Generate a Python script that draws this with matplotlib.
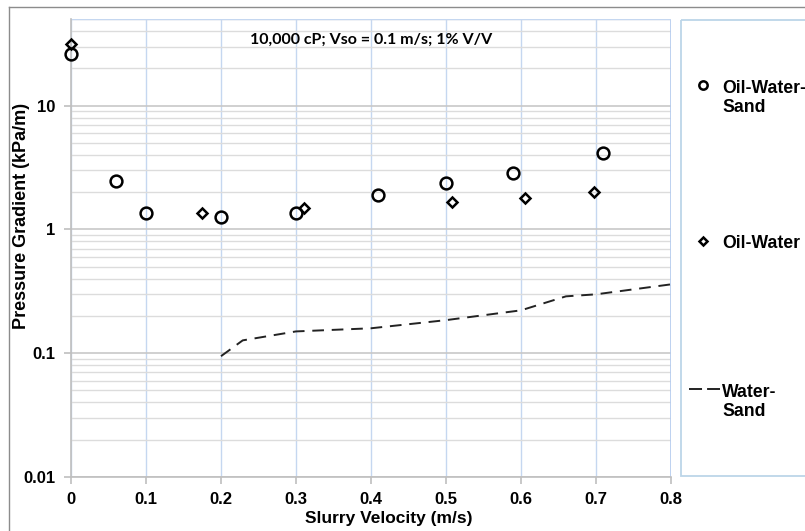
import matplotlib
matplotlib.use("Agg")
import matplotlib.pyplot as plt
from matplotlib.patches import Rectangle
from matplotlib.ticker import FixedLocator, NullFormatter, LogLocator

# oil-water-sand slurry measurements
ows_v = [0.0, 0.06, 0.10, 0.20, 0.30, 0.41, 0.50, 0.59, 0.71]
ows_dp = [26.3, 2.44, 1.35, 1.27, 1.35, 1.88, 2.35, 2.88, 4.17]

# oil-water (no sand)
ow_v = [0.0, 0.175, 0.311, 0.508, 0.605, 0.697]
ow_dp = [31.6, 1.37, 1.50, 1.68, 1.81, 2.02]

# water-sand
ws_v = [0.20, 0.229, 0.30, 0.40, 0.50, 0.60, 0.66, 0.70, 0.80]
ws_dp = [0.0946, 0.127, 0.150, 0.159, 0.185, 0.222, 0.288, 0.299, 0.360]

x_ticks = [0, 0.1, 0.2, 0.3, 0.4, 0.5, 0.6, 0.7, 0.8]
y_ticks = [0.01, 0.1, 1, 10]
y_labels = ['0.01', '0.1', '1', '10']

plt.rcParams['font.family'] = ['Liberation Sans', 'DejaVu Sans']

fig = plt.figure(figsize=(8.05, 5.31), dpi=100)
ax = fig.add_axes([0.0882, 0.1017, 0.7453, 0.8623])

ax.set_yscale('log')
ax.set_xlim(0, 0.8)
ax.set_ylim(0.01, 50)

circ = dict(marker='o', mfc='none', mec='black', mew=1.8, linestyle='none')
diam = dict(marker='D', mfc='none', mec='black', mew=1.8, linestyle='none')
dash = dict(color='#222222', lw=1.4)

ax.plot(ows_v, ows_dp, ms=8.5, clip_on=False, zorder=5, **circ)
ax.plot(ow_v, ow_dp, ms=5.5, clip_on=False, zorder=5, **diam)
ax.plot(ws_v, ws_dp, dashes=(6, 4), zorder=4, **dash)

# grid: blue verticals, grey horizontals
ax.xaxis.set_major_locator(FixedLocator(x_ticks))
ax.set_xticklabels([f'{t:g}' for t in x_ticks])
ax.yaxis.set_major_locator(FixedLocator(y_ticks))
ax.set_yticklabels(y_labels)
ax.yaxis.set_minor_locator(LogLocator(base=10, subs=range(2, 10), numticks=20))
ax.yaxis.set_minor_formatter(NullFormatter())
ax.grid(True, axis='x', color='#c5d7f0', lw=1.0)
ax.grid(True, axis='y', which='major', color='#c8c8c8', lw=1.2)
ax.grid(True, axis='y', which='minor', color='#dcdcdc', lw=1.0)
ax.set_axisbelow(True)

for side in ['top', 'right']:
    ax.spines[side].set_visible(False)
for side in ['left', 'bottom']:
    ax.spines[side].set_color('#bfbfbf')
    ax.spines[side].set_linewidth(1.2)
ax.plot([0.8, 0.8], [0.01, 50], color='#b4cbee', lw=1.2, zorder=1)
ax.axhline(50, color='#c5d7f0', lw=1.0, zorder=1)

ax.tick_params(axis='both', which='major', length=5, color='#bfbfbf', width=1.2,
               labelsize=12, pad=6)
ax.tick_params(axis='y', which='minor', length=0)
for lab in ax.get_xticklabels() + ax.get_yticklabels():
    lab.set_fontweight('bold')

ax.set_xlabel('Slurry Velocity (m/s)', fontsize=12.5, fontweight='bold')
ax.xaxis.set_label_coords(0.53, -0.075)
ax.set_ylabel('Pressure Gradient (kPa/m)', fontsize=13, fontweight='bold')
ax.yaxis.set_label_coords(-0.069, 0.571)

ax.text(0.5, 0.955, '10,000 cP; Vso = 0.1 m/s; 1% V/V', transform=ax.transAxes,
        ha='center', va='center', fontsize=11.5, fontweight='bold',
        family=['Lato', 'DejaVu Sans'])

# legend panel, laid out in pixel units
lax = fig.add_axes([0, 0, 1, 1], zorder=-1)
lax.set_xlim(0, 805)
lax.set_ylim(531, 0)
lax.axis('off')
lax.add_patch(Rectangle((681, 20), 140, 456, fill=False,
                        edgecolor='#bcd5e8', lw=1.3, clip_on=False))
lax.plot(703, 85, ms=6, **circ)
lax.plot(703, 241, ms=4.5, **diam)
lax.plot([689, 720], [389, 389], dashes=(6.7, 2.6), **dash)
# baseline of the last line of each label
leg_text = dict(fontsize=12.7, fontweight='bold', va='baseline', ha='left',
                linespacing=1.12)
lax.text(722, 111.5, 'Oil-Water-\nSand', **leg_text)
lax.text(722, 247.5, 'Oil-Water', **leg_text)
lax.text(722, 415.5, 'Water-\nSand', **leg_text)

# outer chart border
lax.plot([9, 9], [531, 7], color='#8c8c8c', lw=1.0, clip_on=False)
lax.plot([9, 805], [7, 7], color='#8c8c8c', lw=1.0, clip_on=False)

fig.savefig('out.png', dpi=100)
